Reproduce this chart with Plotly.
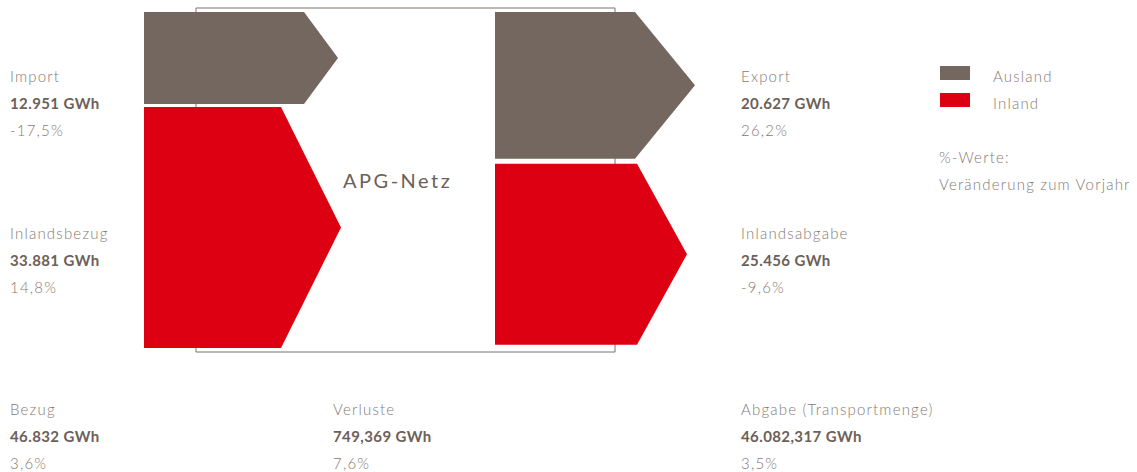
import plotly.graph_objects as go

# ---- data ----
in_labels = ["Import", "Inlandsbezug"]
in_values = [12951, 33881]          # GWh
in_pct = ["-17,5%", "14,8%"]
out_labels = ["Export", "Inlandsabgabe"]
out_values = [20627, 25456]         # GWh
out_pct = ["26,2%", "-9,6%"]
categories = ["Ausland", "Inland"]
total_labels = ["Bezug", "Verluste", "Abgabe (Transportmenge)"]
total_values = ["46.832 GWh", "749,369 GWh", "46.082,317 GWh"]
total_pct = ["3,6%", "7,6%", "3,5%"]
center_label = "APG-Netz"
note_lines = ["%-Werte:", "Veränderung zum Vorjahr"]

# ---- style / layout ----
W, H = 1137, 472
K = 0.00711          # px per GWh
TOP = 12             # px of arrow top
COLORS = ["#74675f", "#dc0012"]
TXT = "#867a73"
TXT_B = "#6c6059"
FONT = "Lato"

def fmt(v):
    return f"{v:,}".replace(",", ".") + " GWh"

def py(px):
    return 1 - px / H

fig = go.Figure()

def arrow(x0, xs, xt, y0, val, color):
    y1 = y0 + val
    ym = (y0 + y1) / 2
    fig.add_trace(go.Scatter(
        x=[x0, xs, xt, xs, x0, x0],
        y=[y0, y0, ym, y1, y1, y0],
        mode="lines", fill="toself", fillcolor=color,
        line=dict(width=0, color=color), hoverinfo="skip", showlegend=False))
    return y1

# left arrows
left_geom = [(144, 304, 338), (144, 281, 341)]
left_gap = 3 / K
y = 0
for i, v in enumerate(in_values):
    x0, xs, xt = left_geom[i]
    y = arrow(x0, xs, xt, y, v, COLORS[i]) + left_gap

right_geom = [(495, 635, 695), (495, 637, 687)]
right_gap = 5 / K
y = 0
for i, v in enumerate(out_values):
    x0, xs, xt = right_geom[i]
    y = arrow(x0, xs, xt, y, v, COLORS[i]) + right_gap

# frame box
fig.add_shape(type="rect", xref="x", yref="paper", x0=196, x1=615,
              y0=py(352), y1=py(8), line=dict(color="#7e726b", width=1),
              layer="below")

def txt(x, ypx, s, bold=False, size=15, color=None, anchor="left", ls=None):
    if ls is None:
        ls = 0.4 if bold else 1.2
    fig.add_annotation(x=x, y=py(ypx), xref="x", yref="paper", xshift=-2,
                       text=f'<span style="letter-spacing:{ls}px">{s}</span>',
                       showarrow=False, xanchor=anchor, yanchor="middle",
                       font=dict(family=FONT, size=size,
                                 color=color or (TXT_B if bold else TXT),
                                 weight=700 if bold else 300))

def block(x, ytop, label, value, pct):
    txt(x, ytop, label)
    txt(x, ytop + 27, value, bold=True)
    txt(x, ytop + 54, pct)

block(10, 76, in_labels[0], fmt(in_values[0]), in_pct[0])
block(10, 233, in_labels[1], fmt(in_values[1]), in_pct[1])
block(741, 76, out_labels[0], fmt(out_values[0]), out_pct[0])
block(741, 233, out_labels[1], fmt(out_values[1]), out_pct[1])
for xb, l, v, p in zip([10, 333, 741], total_labels, total_values, total_pct):
    block(xb, 409, l, v, p)

fig.add_annotation(x=343, y=py(180), xref="x", yref="paper", xshift=-2,
                   text=f'<span style="letter-spacing:2.5px">{center_label}</span>',
                   showarrow=False, xanchor="left", yanchor="middle",
                   font=dict(family=FONT, size=20, color="#6c6059", weight=400))

# legend
for i, c in enumerate(categories):
    yc = 73 + 27 * i
    fig.add_shape(type="rect", xref="x", yref="paper", x0=940, x1=970,
                  y0=py(yc + 7), y1=py(yc - 7), fillcolor=COLORS[i],
                  line=dict(width=0))
    txt(993, yc + 3, c)
txt(939, 157, note_lines[0])
txt(939, 184, note_lines[1])

fig.update_layout(
    width=W, height=H, margin=dict(l=0, r=0, t=0, b=0),
    paper_bgcolor="white", plot_bgcolor="white", showlegend=False,
    xaxis=dict(range=[0, W], visible=False, fixedrange=True),
    yaxis=dict(range=[(H - TOP) / K, -TOP / K], visible=False, fixedrange=True),
)
fig.write_html("out.html", config={"displayModeBar": False},
               post_script="document.body.style.margin='0';document.body.style.padding='0';")
